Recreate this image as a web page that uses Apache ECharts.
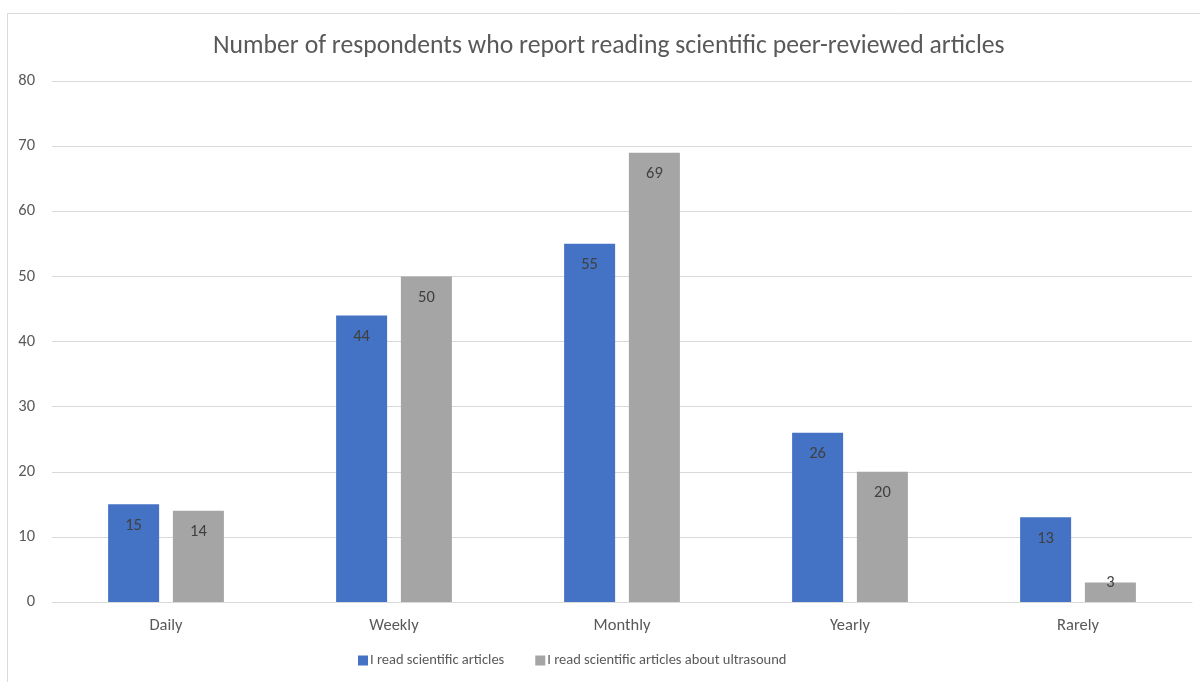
<!DOCTYPE html>
<html>
<head>
<meta charset="utf-8">
<script src="https://cdn.jsdelivr.net/npm/echarts@6/dist/echarts.min.js"></script>
<style>
  html, body { margin: 0; padding: 0; background: #ffffff; }
  #chart { width: 1200px; height: 682px; }
</style>
</head>
<body>
<div id="chart"></div>
<script>
// Reading frequency categories and respondent counts
const categories = ['Daily', 'Weekly', 'Monthly', 'Yearly', 'Rarely'];
const readScientific = [15, 44, 55, 26, 13];
const readUltrasound = [14, 50, 69, 20, 3];
const seriesNames = ['I read scientific articles', 'I read scientific articles about ultrasound'];
const yTicks = { min: 0, max: 80, interval: 10 };

const chart = echarts.init(document.getElementById('chart'));
const fontFamily = 'Calibri, Carlito, "Open Sans", "Noto Sans", sans-serif';
const textColor = '#595959';

const barLabel = {
  show: true,
  position: 'insideTop',
  distance: 13,
  color: '#404040',
  fontSize: 16.5,
  fontFamily: fontFamily
};

// Bars too short to hold their label get it lifted onto the bar's top edge
function withShortBarLabels(values) {
  return values.map(function (v) {
    return v < 5 ? { value: v, label: { offset: [0, -21] } } : v;
  });
}

chart.setOption({
  animation: false,
  backgroundColor: '#ffffff',
  graphic: [{
    type: 'rect',
    shape: { x: 7.5, y: 13.5, width: 1220, height: 700 },
    style: { fill: 'none', stroke: '#d9d9d9', lineWidth: 1 },
    silent: true,
    z: -1
  }],
  title: {
    text: 'Number of respondents who report reading scientific peer-reviewed articles',
    left: 208,
    top: 29,
    textStyle: { color: textColor, fontSize: 25.7, fontWeight: 'normal', fontFamily: fontFamily }
  },
  legend: {
    bottom: 9,
    left: 353,
    itemWidth: 10,
    itemHeight: 10,
    itemGap: 31,
    icon: 'rect',
    textStyle: { color: textColor, fontSize: 14.5, fontFamily: fontFamily, padding: [0, 0, 0, -3] },
    data: seriesNames
  },
  grid: { left: 52, right: 8, top: 81, bottom: 80, containLabel: false },
  xAxis: {
    type: 'category',
    data: categories,
    axisLine: { show: true, lineStyle: { color: '#d9d9d9' } },
    axisTick: { show: false },
    axisLabel: { color: textColor, fontSize: 16.5, fontFamily: fontFamily, margin: 15 }
  },
  yAxis: {
    type: 'value',
    min: yTicks.min,
    max: yTicks.max,
    interval: yTicks.interval,
    axisLine: { show: false },
    axisTick: { show: false },
    axisLabel: { color: textColor, fontSize: 16.5, fontFamily: fontFamily, margin: 17 },
    splitLine: { lineStyle: { color: '#d9d9d9', width: 1 } }
  },
  series: [
    {
      name: seriesNames[0],
      type: 'bar',
      data: withShortBarLabels(readScientific),
      barWidth: 51,
      barGap: '27%',
      itemStyle: { color: '#4472C4' },
      label: barLabel
    },
    {
      name: seriesNames[1],
      type: 'bar',
      data: withShortBarLabels(readUltrasound),
      barWidth: 51,
      itemStyle: { color: '#A5A5A5' },
      label: barLabel
    }
  ]
});
</script>
</body>
</html>
